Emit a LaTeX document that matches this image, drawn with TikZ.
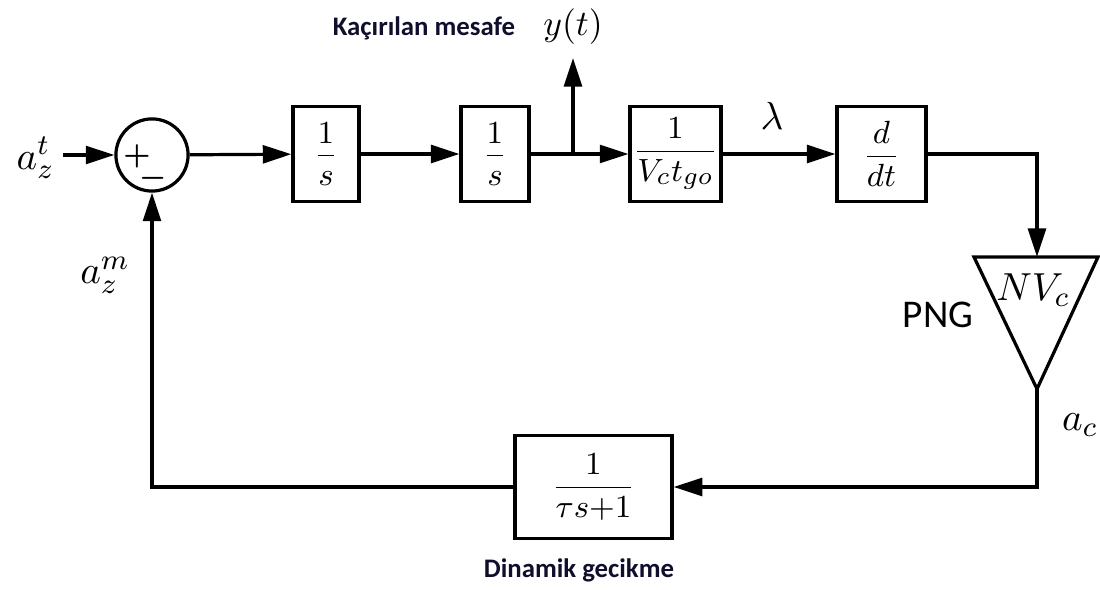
\documentclass[tikz,border=0pt]{standalone}
\usepackage{fontspec}
\usepackage{amsmath}
\newfontfamily\carlito{Carlito}
\usetikzlibrary{positioning}
\usetikzlibrary{arrows.meta}
\definecolor{navytext}{RGB}{15,15,45}

\begin{document}
\begin{tikzpicture}[x=0.28pt, y=-0.28pt, line width=0.9pt,
    every node/.style={font=\fontsize{11}{13}\selectfont},
    block/.style={draw, rectangle, inner sep=0pt, minimum height=26.6pt, font=\fontsize{9.5}{11}\selectfont},
    sign/.style={inner sep=0pt, font=\fontsize{8}{9}\selectfont},
    arr/.style={-{Triangle[length=8pt,width=5pt]}},
    note/.style={font=\carlito\bfseries\fontsize{7.5}{9}\selectfont, text=navytext}]
    \useasboundingbox (0,0) rectangle (1100,590);

    % blocks
    \node[draw, circle, inner sep=0pt, minimum size=20.2pt] (sum) at (152,155) {};
    \node[block, minimum width=18.5pt] (b1) at (326,154) {$\dfrac{1}{s}$};
    \node[block, minimum width=19pt] (b2) at (495,154) {$\dfrac{1}{s}$};
    \node[block, minimum width=25.5pt] (b3) at (675.5,154) {$\dfrac{1}{V_c t_{go}}$};
    \node[block, minimum width=24.9pt] (b4) at (881.5,154) {$\dfrac{d}{dt}$};
    \node[block, minimum width=44pt, minimum height=28.8pt] (b5) at (593.5,487) {$\dfrac{1}{\tau s{+}1}$};
    \coordinate (tl) at (974,257);
    \coordinate (tr) at (1098,257);
    \coordinate (pngtop) at (1037,257);
    \coordinate (pngtip) at (1037,389);
    \draw (tl) -- (tr) -- (pngtip) -- cycle;

    % signs and labels
    \node[sign] (plus) at (137,156) {$\boldsymbol{+}$};
    \node[sign] (minus) at (153,178) {$\boldsymbol{-}$};
    \node[anchor=east] (azt) at (68,158) {$a_z^t$};
    \node (azm) at (105,275) {$a_z^m$};
    \node[font=\fontsize{10}{12}\selectfont] (yt) at (573,27) {$y(t)$};
    \node (lam) at (772,116) {$\lambda$};
    \node (nvc) at (1033,290) {$NV_c$};
    \node (ac) at (1080,425) {$a_c$};
    \node[font=\carlito\fontsize{11}{13}\selectfont] (png) at (938,315) {PNG};
    \node[note] (miss) at (424,28) {Kaçırılan mesafe};
    \node[note] (delay) at (579,570) {Dinamik gecikme};

    % connectors
    \coordinate (in) at (63,155);
    \coordinate (br) at (573,155);
    \coordinate (yout) at (573,58);
    \draw[arr] (in) -- (sum);
    \draw[arr] (sum) -- (b1);
    \draw[arr] (b1) -- (b2);
    \draw[arr] (b2) -- (b3);
    \draw[arr] (br) -- (yout);
    \draw[arr] (b3) -- (b4);
    \draw[arr] (b4.east) -| (pngtop);
    \draw[arr] (pngtip) |- (b5.east);
    \draw[arr] (b5.west) -| (sum.south);
\end{tikzpicture}
\end{document}
